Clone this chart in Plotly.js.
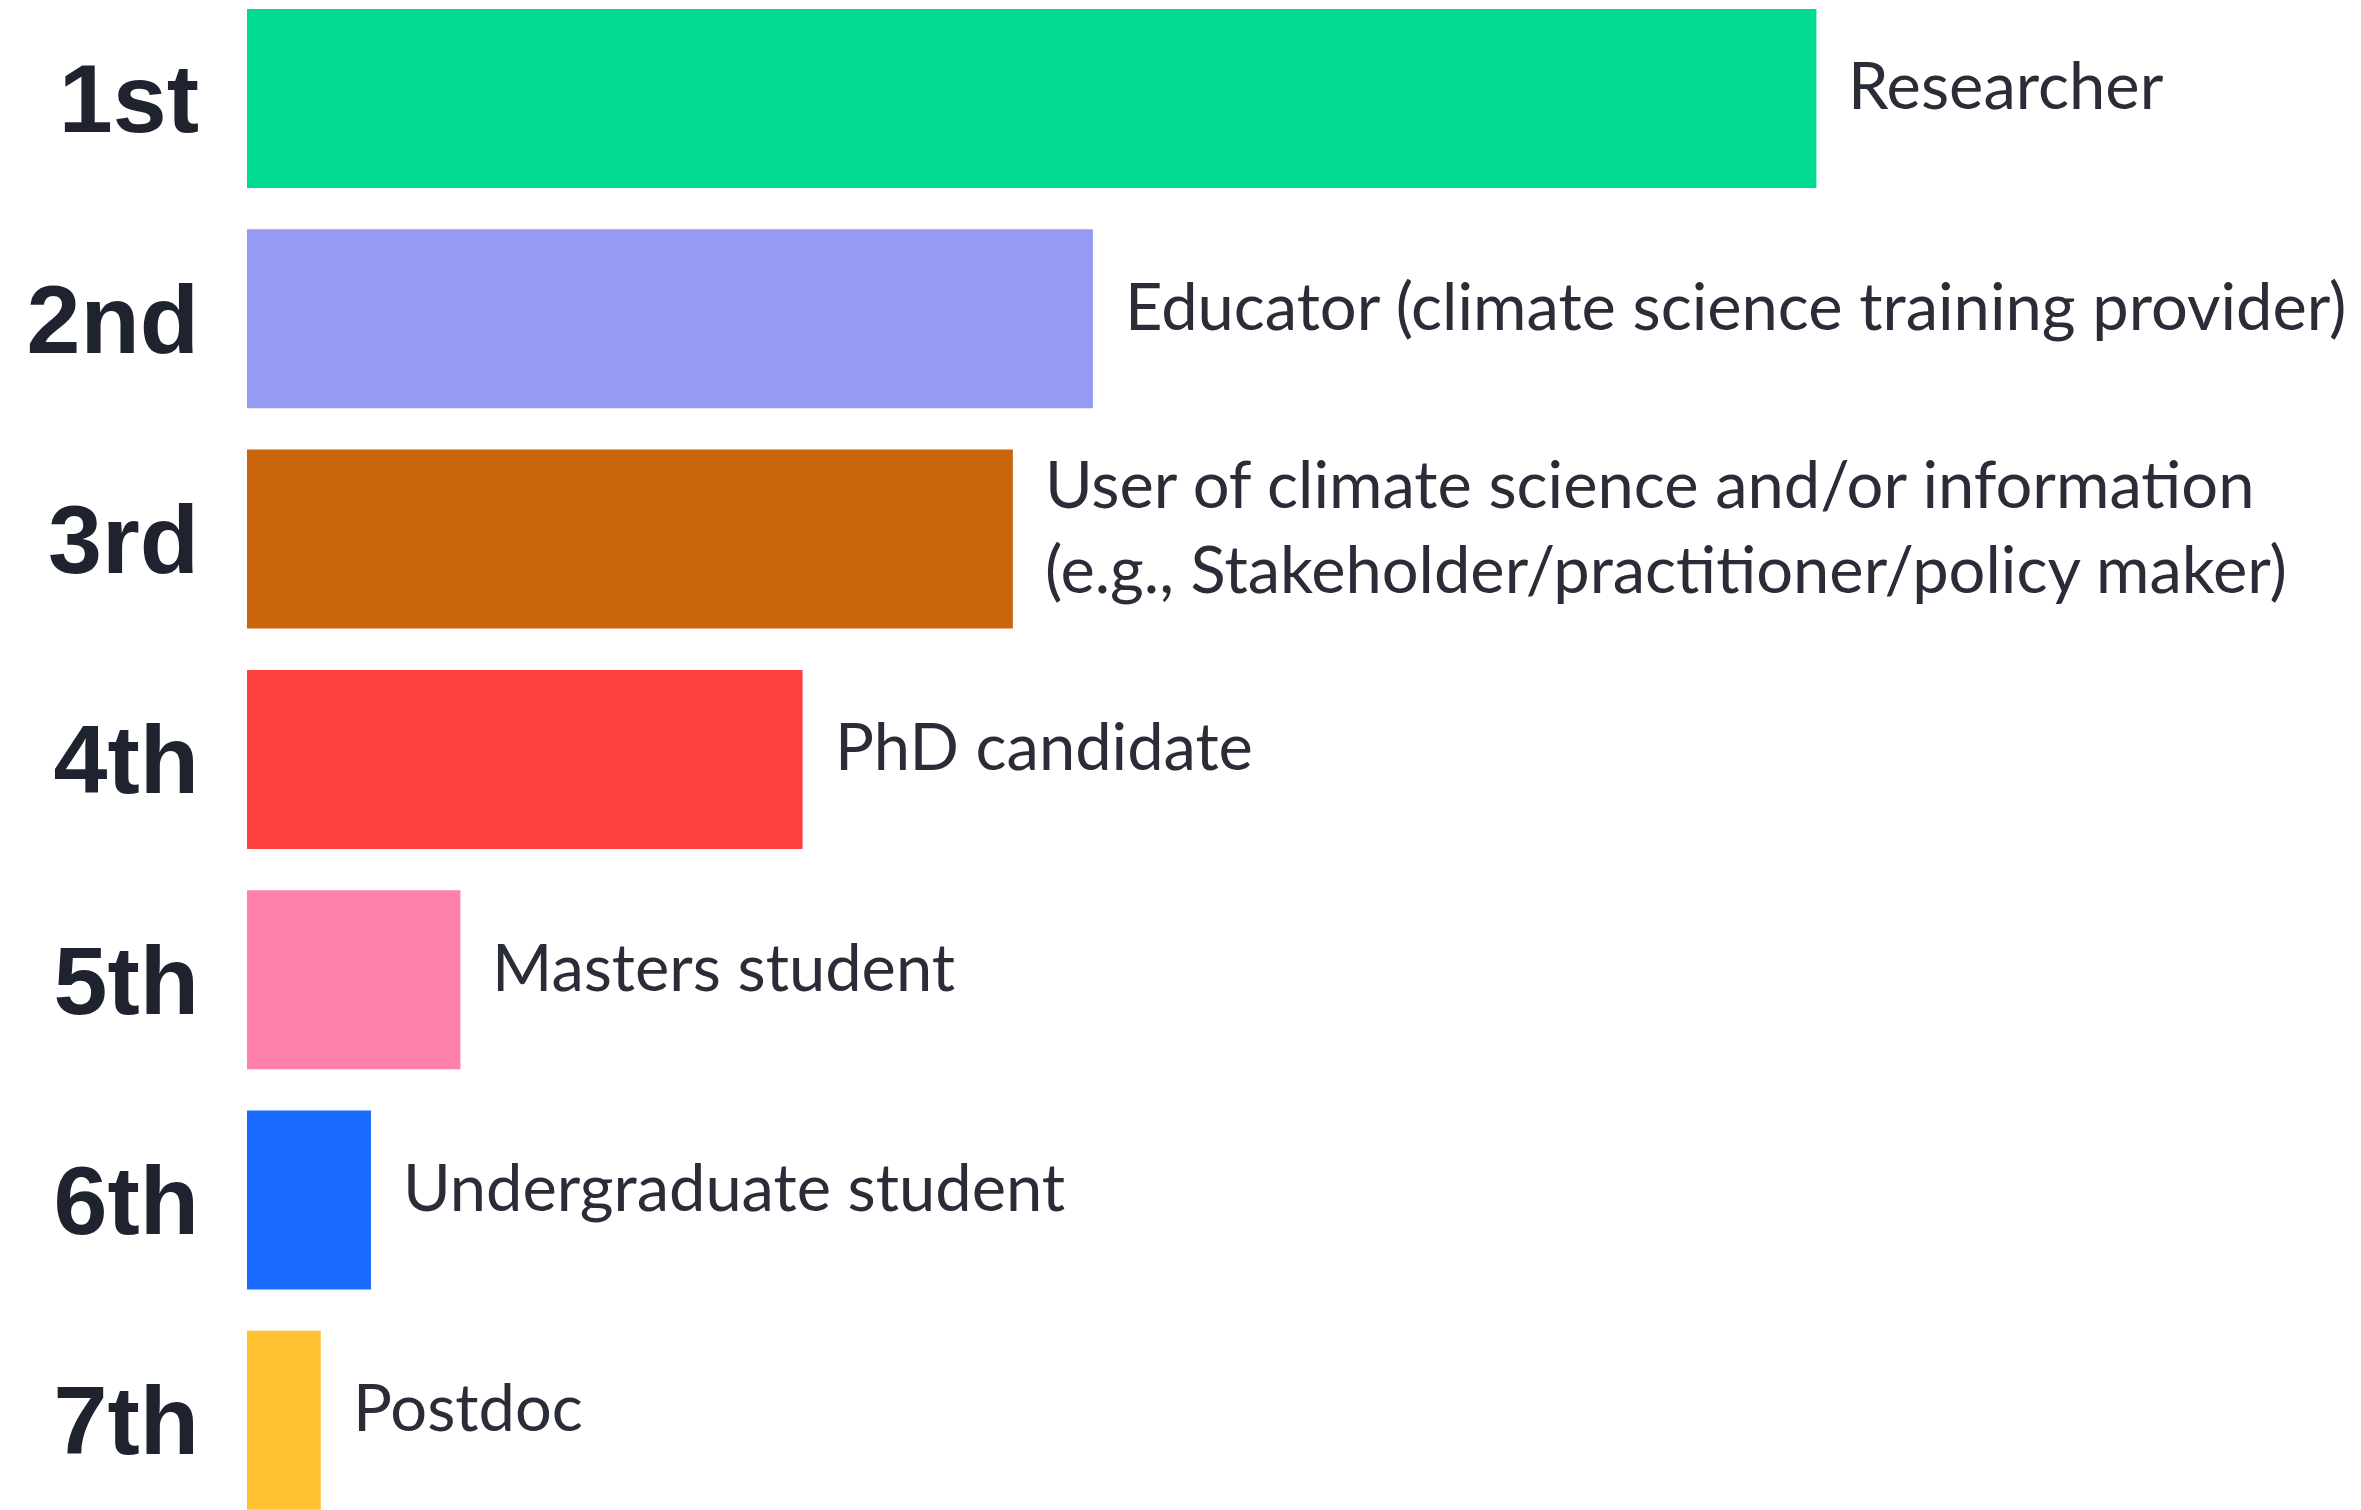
<!DOCTYPE html>
<html>
<head>
<meta charset="utf-8">
<script src="https://cdn.plot.ly/plotly-3.0.1.min.js"></script>
<style>
  html, body { margin: 0; padding: 0; background: #ffffff; }
  #chart { width: 2361px; height: 1510px; }
</style>
</head>
<body>
<div id="chart"></div>
<script>
// ---- Data ----
const ranks = ["1st", "2nd", "3rd", "4th", "5th", "6th", "7th"];
const roles = [
  "Researcher",
  "Educator (climate science training provider)",
  "User of climate science and/or information<br>(e.g., Stakeholder/practitioner/policy maker)",
  "PhD candidate",
  "Masters student",
  "Undergraduate student",
  "Postdoc"
];
// relative ranking score (bar length), top item = 100
const scores = [100, 53.9, 48.8, 35.4, 13.6, 7.9, 4.7];
const colors = ["#00DA93", "#969AF4", "#CA650B", "#FF4040", "#FF80AA", "#196AFF", "#FFC232"];

// ---- Build chart ----
const trace = {
  type: "bar",
  orientation: "h",
  x: scores,
  y: ranks,
  marker: { color: colors, line: { width: 0 } },
  width: 0.8125,
  hoverinfo: "skip"
};

const textColor = "#2A2D37";
const annotations = roles.map((label, i) => ({
  x: scores[i],
  y: ranks[i],
  xref: "x",
  yref: "y",
  text: label,
  showarrow: false,
  align: "left",
  xanchor: "left",
  yanchor: "middle",
  xshift: 30,
  yshift: 14,
  font: { family: "Lato, 'Liberation Sans', sans-serif", size: 65, color: textColor }
}));

const layout = {
  width: 2361,
  height: 1510,
  margin: { l: 247, r: 0, t: 0, b: 0, pad: 0 },
  paper_bgcolor: "#ffffff",
  plot_bgcolor: "#ffffff",
  showlegend: false,
  bargap: 0.1875,
  xaxis: {
    range: [0, 134.7],
    visible: false,
    showgrid: false,
    zeroline: false,
    fixedrange: true
  },
  yaxis: {
    type: "category",
    categoryorder: "array",
    categoryarray: ranks,
    range: [6.407, -0.447],
    showgrid: false,
    zeroline: false,
    showline: false,
    ticks: "",
    ticklabelstandoff: 47,
    tickfont: { family: "'Liberation Sans', Arial, sans-serif", size: 97, color: "#1F2330", weight: "bold" },
    fixedrange: true
  },
  annotations: annotations
};

Plotly.newPlot("chart", [trace], layout, { displayModeBar: false, staticPlot: true });
</script>
</body>
</html>
